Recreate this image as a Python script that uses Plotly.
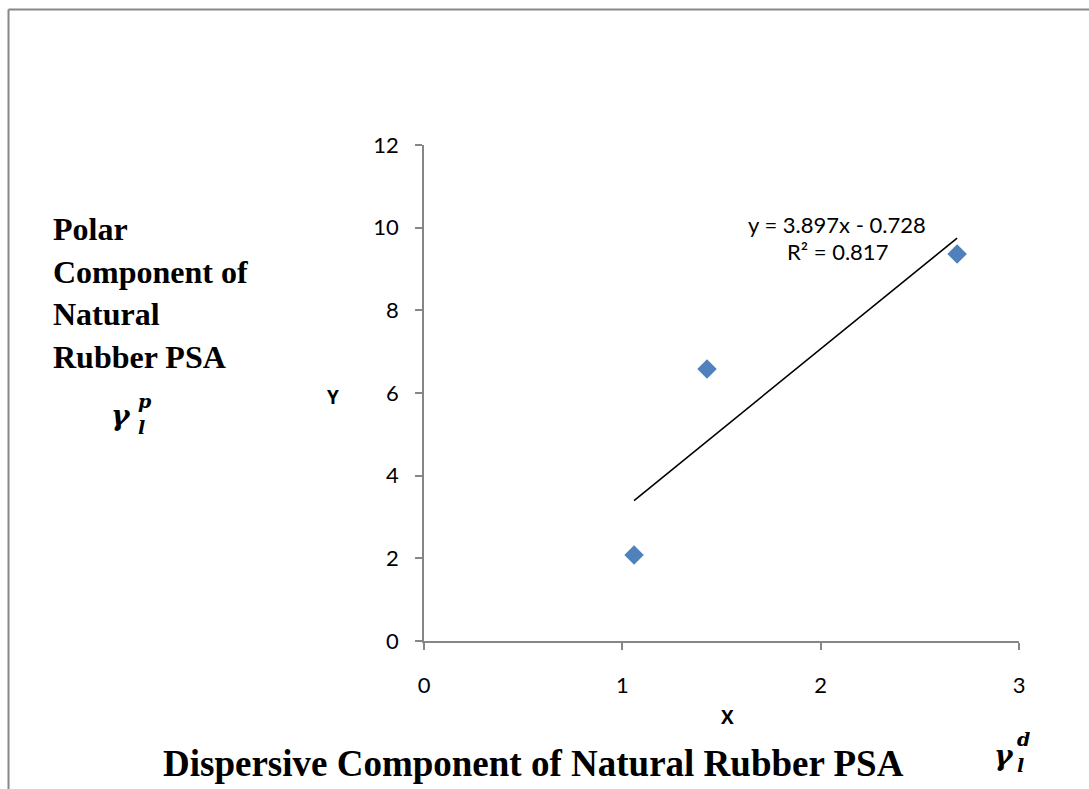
import plotly.graph_objects as go

# Measured points: dispersive (x) vs polar (y) component
x_vals = [1.059, 1.427, 2.688]
y_vals = [2.08, 6.58, 9.36]

# Linear fit reported on the chart
slope = 3.897
intercept = -0.728
r_squared = 0.817

x_ticks = [0, 1, 2, 3]
y_ticks = [0, 2, 4, 6, 8, 10, 12]

W, H = 1089, 789
L, R, T, B = 424, 1089 - 1019, 145, 789 - 641
PW, PH = W - L - R, H - T - B

fit_x = [min(x_vals), max(x_vals)]
fit_y = [slope * v + intercept for v in fit_x]

fig = go.Figure()
fig.add_trace(go.Scatter(
    x=fit_x, y=fit_y, mode="lines",
    line=dict(color="black", width=1.6), hoverinfo="skip", showlegend=False,
))
fig.add_trace(go.Scatter(
    x=x_vals, y=y_vals, mode="markers",
    marker=dict(symbol="diamond", size=15, color="#4F81BD",
                line=dict(width=0)),
    showlegend=False,
))

tick_font = dict(family="Lato, Carlito, Arial", size=22, color="black")
fig.update_xaxes(
    range=[0, 3], tickvals=x_ticks, showgrid=False, zeroline=False,
    showline=True, linecolor="#868686", linewidth=1.5,
    ticks="outside", ticklen=7, tickcolor="#868686", tickwidth=1.5,
    tickfont=tick_font, ticklabelstandoff=17,
)
fig.update_yaxes(
    range=[0, 12], tickvals=y_ticks, showgrid=False, zeroline=False,
    showline=True, linecolor="#868686", linewidth=1.5,
    ticks="outside", ticklen=7, tickcolor="#868686", tickwidth=1.5,
    tickfont=tick_font, ticklabelstandoff=12,
)

# Convert page pixels to paper coordinates (paper spans the plot area)
def px(x):
    return (x - L) / PW

def py(y):
    return (H - B - y) / PH

ann = []
# Outer frame (top and left edges)
shapes = [
    dict(type="line", xref="paper", yref="paper", x0=px(8.5), x1=px(W), y0=py(9.5), y1=py(9.5),
         line=dict(color="#878787", width=2)),
    dict(type="line", xref="paper", yref="paper", x0=px(8.5), x1=px(8.5), y0=py(9.5), y1=py(H),
         line=dict(color="#878787", width=2)),
]

def text(x, y, s, size, family, bold=False, italic=False, xanchor="center", color="black"):
    if bold:
        s = f"<b>{s}</b>"
    if italic:
        s = f"<i>{s}</i>"
    ann.append(dict(
        x=px(x), y=py(y), xref="paper", yref="paper", text=s, showarrow=False,
        xanchor=xanchor, yanchor="middle", font=dict(family=family, size=size, color=color),
    ))

serif = "Liberation Serif, Times New Roman, serif"
for i, line in enumerate(["Polar", "Component of", "Natural", "Rubber PSA"]):
    text(51, 229 + i * 42.5, line, 32, serif, bold=True, xanchor="left")

math = "DejaVu Serif, serif"
# gamma_l^p label
text(121, 415, "γ", 28, math, bold=True, italic=True)
text(136, 401, "p", 19, math, bold=True, italic=True, xanchor="left")
text(136, 427, "l", 19, math, bold=True, italic=True, xanchor="left")

# gamma_l^d label
text(1004, 755, "γ", 28, math, bold=True, italic=True)
text(1015, 739, "d", 19, math, bold=True, italic=True, xanchor="left")
text(1015, 765, "l", 19, math, bold=True, italic=True, xanchor="left")

text(533, 763, "Dispersive Component of Natural Rubber PSA", 37, serif, bold=True)

bold_sans = "Open Sans, Liberation Sans, Arial"
text(333, 397, "Y", 19, bold_sans, bold=True)
text(727, 717, "X", 19, bold_sans, bold=True)

sans = "Lato, Carlito, Arial"
sign = "-" if intercept < 0 else "+"
text(837, 224, f"y = {slope:.3f}x {sign} {abs(intercept):.3f}", 22, sans)
text(837, 251, f"R² = {r_squared:.3f}", 22, sans)

fig.update_layout(
    width=W, height=H, autosize=False,
    margin=dict(l=L, r=R, t=T, b=B),
    plot_bgcolor="white", paper_bgcolor="white",
    annotations=ann, shapes=shapes,
)

fig.write_html("out.html")
